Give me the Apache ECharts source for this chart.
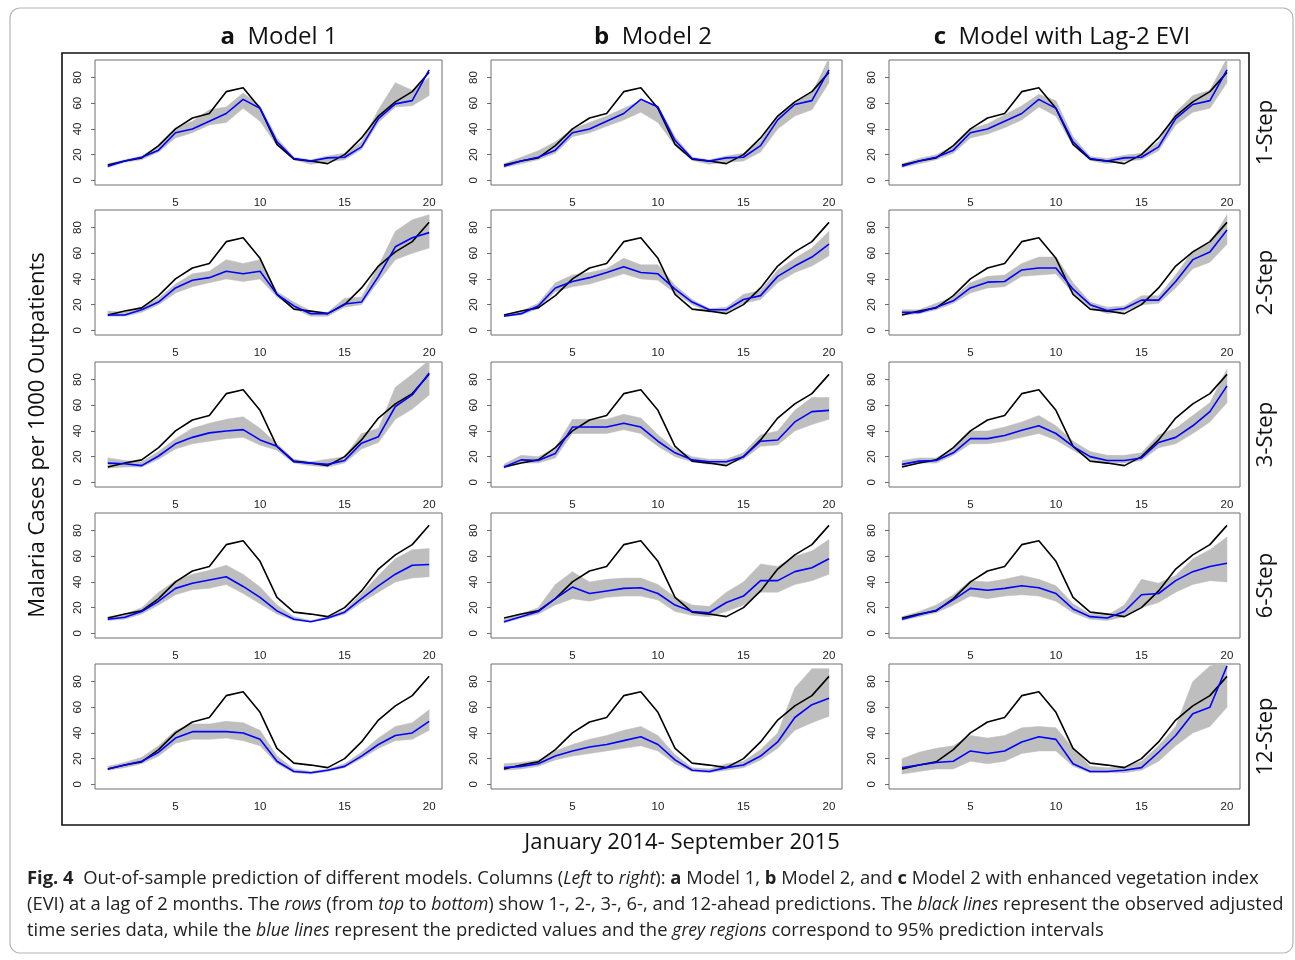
<!DOCTYPE html>
<html><head><meta charset="utf-8">
<script src="https://cdn.jsdelivr.net/npm/echarts@6/dist/echarts.min.js"></script>
<style>html,body{margin:0;padding:0;background:#fff;}#c{width:1295px;height:960px;}</style>
</head><body><div id="c"></div>
<script>
// ---- data ----
const months = [1,2,3,4,5,6,7,8,9,10,11,12,13,14,15,16,17,18,19,20];
const columnTitles = ['Model 1','Model 2','Model with Lag-2 EVI'];
const columnLetters = ['a','b','c'];
const rowLabels = ['1-Step','2-Step','3-Step','6-Step','12-Step'];
const xTicks = [5,10,15,20];
const yTicks = [0,20,40,60,80];
const observed = [12,15,17.5,27,40,48.5,52,69,72,56,28,16.5,15,13,20,33,50,61,69,84];

// 1-step
const predA1 = [11,15,18,23.5,37,40,46,52,63,56,30,17,15,17.5,18,26,48,59.5,62,86];
const lowA1  = [10,14,16,22,33,37,43,45,56,46,27,16,12.5,14.5,16,24,45,57,58,66];
const upA1   = [13,16,19,27,41,46,55,57,68,58,33,18,16,19,21,30,55,76,70,80];
const predB1 = [11,15,18,23.5,37,40,46,52,63,57,31,17,15,17.5,18,27,47,59,62,86];
const lowB1  = [10,13,16,21,34,37,42,47,53,45,27,15.5,12.5,14,15,22,40,50,55,76];
const upB1   = [13,18,23,30,40,45,50,56,62,58,34,18,16,19,21,31,50,61,68,95];
const predC1 = [11,15,18,23.5,37,40,46,52,63,56,30,17,15,17.5,18,26,48,59,62,86];
const lowC1  = [10,13,16,21,33,36,41,47,57,50,27,15.5,13,15,16,23,43,53,56,76];
const upC1   = [13,17,20,27,40,44,51,58,67,62,34,18.5,17,19.5,21,30,53,66,70,95];
// 2-step
const predA2 = [12,12,16,22,33,39,41,46,44,46,28,19,13,13,20.5,22,42,65,72,76];
const lowA2  = [11,11,14,20,29,34,37,40,38,40,26,17,11,11,18,20,38,55,60,64];
const upA2   = [15,14,18,25,36,44,46,55,52,55,30,22,15,14,25,26,50,77,86,90];
const predB2 = [11,13,19,33,38,41,45,49.5,45,44,32,22,16,16,24,27,42,50,57,67];
const lowB2  = [11,12,17,30,34,36,40,44,40,39,29,20,14,14,21,24,37,45,50,58];
const upB2   = [12,15,21,37,43,45,48,56,51,51,35,24,17,18,28,31,47,56,64,77];
const predC2 = [14,14,18,23,33,37.5,38,47,48.5,48.5,32,20,15.5,17,23.5,23.5,38,55,61,78];
const lowC2  = [12,13,16,21,29,33,34,42,43,44,29,18,13,15,20,21,33,48,53,67];
const upC2   = [16,16,21,26,37,42,43,52,57,57,37,22,18,19,27,27,43,62,68,90];
// 3-step
const predA3 = [15,14.5,13,20.5,30,35,38.5,40,41,33,28,16,15,14,17,30.5,35.5,59,68,85];
const lowA3  = [11,12,12,18,26,30,32,34,35,29,25,15,13,12,15,26,31,49,57,68];
const upA3   = [19,17,16,24,34,42,46,49,51,42,30,18,16,18,20,38,42,74,84,95];
const predB3 = [12,17.5,17,22.5,43,43,43,46,43,32,23,17.5,16,16,20,32,33,47,55,56];
const lowB3  = [11,15,15,19,38,38,38,41,38,28,20,16,14,14,18,28,29,40,45,49];
const upB3   = [14,21,20,27,49,49,49,53,50,37,26,20,18,18,23,37,40,56,66,66];
const predC3 = [14,16.5,17,23,34,34,36.5,40.5,44,38,28,20,17,17,19,31,35,44,55,75];
const lowC3  = [12,15,15,21,30,30,32,35,38,33,25,18,15,15,17,27,30,38,47,62];
const upC3   = [17,19,19,26,40,40,43,47,52,44,32,24,21,21,23,37,42,52,62,88];
// 6-step
const predA6 = [11,12.5,17,25,35,39,41.5,44,36.5,28,17.5,11,9,12,16.5,27,37,46,53,53.5];
const lowA6  = [10,11,15,22,30,34,35,38,31,23,15,10,9,11,15,24,32,40,43,44];
const upA6   = [13,15,20,32,41,46,49,53,46,36,22,13,10,13,18,31,45,58,65,66];
const predB6 = [9,13,17,27,36,31,33,35,35.5,31,22,17,16,24,29,41,41,48,51,58];
const lowB6  = [8,12,15,22,27,25,28,29,29,26,17,14,13,17,22,32,32,38,41,46];
const upB6   = [11,15,20,38,48,40,42,43,43,38,28,22,21,32,40,54,52,60,64,73];
const predC6 = [11,14.5,18,26,35,33.5,35,37,35.5,31,19,13,12,17,30,31,41,48,52,54.5];
const lowC6  = [10,13,16,22,29,27,29,30,29,25,16,11,10,13,20,24,32,38,41,40];
const upC6   = [13,17,22,30,41,40,42,45,42,37,23,15,14,22,42,39,45,58,65,75];
// 12-step
const predA12 = [12,15,18,25,36,41,41,41,40,35,18,10,9,11,14,22,31,38,40,49];
const lowA12  = [11,13,16,22,32,35,35,36,34,30,16,9,8,10,13,20,28,34,35,42];
const upA12   = [14,17,21,30,42,47,47,49,48,42,22,12,10,12,16,25,36,45,48,58];
const predB12 = [13,14,16,22,26,29,31,34,37,31,19,11,10,13,15,22,33,52,62,67];
const lowB12  = [11,12,14,19,22,24,26,28,30,26,16,10,9,11,13,19,28,42,48,53];
const upB12   = [16,17,19,26,31,35,38,42,45,38,23,13,12,16,18,27,40,75,90,90];
const predC12 = [13,15,17,18,26,24,26,33,37,35,16,10,10,11,13,25,38,55,60,92];
const lowC12  = [8,10,12,12,18,16,18,24,26,26,14,9,9,9,11,18,30,40,45,60];
const upC12   = [20,25,28,30,38,36,38,44,45,44,28,14,13,14,18,30,45,80,92,95];

const panels = [
  [[predA1,lowA1,upA1],[predB1,lowB1,upB1],[predC1,lowC1,upC1]],
  [[predA2,lowA2,upA2],[predB2,lowB2,upB2],[predC2,lowC2,upC2]],
  [[predA3,lowA3,upA3],[predB3,lowB3,upB3],[predC3,lowC3,upC3]],
  [[predA6,lowA6,upA6],[predB6,lowB6,upB6],[predC6,lowC6,upC6]],
  [[predA12,lowA12,upA12],[predB12,lowB12,upB12],[predC12,lowC12,upC12]]
];

// ---- layout ----
const colLeft = [95, 491, 889];
const colWidth = [347, 351, 351];
const rowTop = [60, 210, 362, 513, 664];
const rowH = 125;
const labelFont = 'Liberation Sans, Arial, sans-serif';
const textFont = '"Open Sans", "Noto Sans", sans-serif';

function bandRender(params, api) {
  if (params.dataIndex !== 0) return null;
  const n = params.dataInsideLength;
  const top = [], bot = [];
  for (let j = 0; j < n; j++) {
    const x = api.value(0, j);
    bot.push(api.coord([x, api.value(1, j)]));
    top.push(api.coord([x, api.value(2, j)]));
  }
  const pts = bot.concat(top.reverse());
  return {type: 'polygon', shape: {points: pts},
    style: {fill: '#bebebe', stroke: '#bebebe', lineWidth: 0.5},
    clipPath: {type: 'rect', shape: {x: params.coordSys.x, y: params.coordSys.y, width: params.coordSys.width, height: params.coordSys.height}}};
}

const grid = [], xAxis = [], yAxis = [], series = [];
let gi = 0;
for (let r = 0; r < 5; r++) {
  for (let c = 0; c < 3; c++) {
    grid.push({left: colLeft[c], top: rowTop[r], width: colWidth[c], height: rowH,
      show: true, borderColor: '#6e6e6e', borderWidth: 1, backgroundColor: 'transparent'});
    xAxis.push({type: 'value', gridIndex: gi, min: 0.24, max: 20.76,
      axisLine: {show: false}, splitLine: {show: false},
      axisTick: {show: false, customValues: xTicks},
      axisLabel: {customValues: xTicks, margin: 12, fontSize: 11.5, color: '#222', fontFamily: labelFont}});
    yAxis.push({type: 'value', gridIndex: gi, min: -3.6, max: 93.6,
      axisLine: {show: false}, splitLine: {show: false},
      axisTick: {show: true, customValues: yTicks, length: 4, lineStyle: {color: '#6e6e6e'}},
      axisLabel: {customValues: yTicks, rotate: 90, margin: 11, fontSize: 11.5, color: '#222', fontFamily: labelFont}});
    const [pred, low, up] = panels[r][c];
    series.push({type: 'custom', xAxisIndex: gi, yAxisIndex: gi, silent: true, renderItem: bandRender,
      encode: {x: 0, y: [1, 2]}, data: months.map((m, i) => [m, low[i], up[i]]), z: 1});
    series.push({type: 'line', xAxisIndex: gi, yAxisIndex: gi, symbol: 'none', silent: true, z: 2,
      lineStyle: {width: 1.6, color: '#000'}, data: months.map((m, i) => [m, observed[i]])});
    series.push({type: 'line', xAxisIndex: gi, yAxisIndex: gi, symbol: 'none', silent: true, z: 3,
      lineStyle: {width: 1.6, color: '#0000ff'}, data: months.map((m, i) => [m, pred[i]])});
    gi++;
  }
}

const colCenters = [279, 653, 1062];
const rowCenters = rowTop.map(t => t + rowH / 2 + 10);
const graphic = [
  {type: 'rect', shape: {x: 10, y: 8, width: 1283, height: 945, r: 10}, style: {fill: 'none', stroke: '#b5b5b5', lineWidth: 1.2}, silent: true},
  {type: 'rect', shape: {x: 62, y: 53, width: 1187, height: 772}, style: {fill: 'none', stroke: '#111', lineWidth: 1.6}, silent: true},
  {type: 'text', x: 38, y: 435, rotation: Math.PI / 2,
    style: {text: 'Malaria Cases per 1000 Outpatients', fontSize: 22, fontFamily: textFont, fill: '#111', textAlign: 'center', textVerticalAlign: 'middle'}},
  {type: 'text', x: 682, y: 843,
    style: {text: 'January 2014- September 2015', fontSize: 22, fontFamily: textFont, fill: '#111', textAlign: 'center', textVerticalAlign: 'middle'}}
];
for (let c = 0; c < 3; c++) {
  graphic.push({type: 'text', x: colCenters[c], y: 37,
    style: {text: '{b|' + columnLetters[c] + '}  ' + columnTitles[c], fontSize: 24, fontFamily: textFont, fill: '#111',
      textAlign: 'center', textVerticalAlign: 'middle',
      rich: {b: {fontSize: 24, fontWeight: 'bold', fontFamily: textFont, fill: '#111'}}}});
}
for (let r = 0; r < 5; r++) {
  graphic.push({type: 'text', x: 1266, y: rowCenters[r], rotation: Math.PI / 2,
    style: {text: rowLabels[r], fontSize: 22, fontFamily: textFont, fill: '#111', textAlign: 'center', textVerticalAlign: 'middle'}});
}
const capFs = 18.4;
const capRich = {
  b: {fontSize: capFs, fontWeight: 'bold', fontFamily: textFont, fill: '#222'},
  i: {fontSize: 17.6, fontStyle: 'italic', fontFamily: textFont, fill: '#222'},
  n: {fontSize: capFs, fontFamily: textFont, fill: '#222'}
};
const capLines = [
  '{b|Fig. 4}{n|  Out-of-sample prediction of different models. Columns (}{i|Left}{n| to }{i|right}{n|): }{b|a}{n| Model 1, }{b|b}{n| Model 2, and }{b|c}{n| Model 2 with enhanced vegetation index}',
  '{n|(EVI) at a lag of 2 months. The }{i|rows}{n| (from }{i|top}{n| to }{i|bottom}{n|) show 1-, 2-, 3-, 6-, and 12-ahead predictions. The }{i|black lines}{n| represent the observed adjusted}',
  '{n|time series data, while the }{i|blue lines}{n| represent the predicted values and the }{i|grey regions}{n| correspond to 95% prediction intervals}'
];
const capY = [879, 905, 931];
capLines.forEach((t, k) => graphic.push({type: 'text', x: 27, y: capY[k],
  style: {text: t, rich: capRich, fontSize: capFs, fontFamily: textFont, fill: '#222', textAlign: 'left', textVerticalAlign: 'middle'}}));

const chart = echarts.init(document.getElementById('c'), null, {renderer: 'canvas'});
chart.setOption({animation: false, backgroundColor: '#fff', grid, xAxis, yAxis, series, graphic});
</script></body></html>
